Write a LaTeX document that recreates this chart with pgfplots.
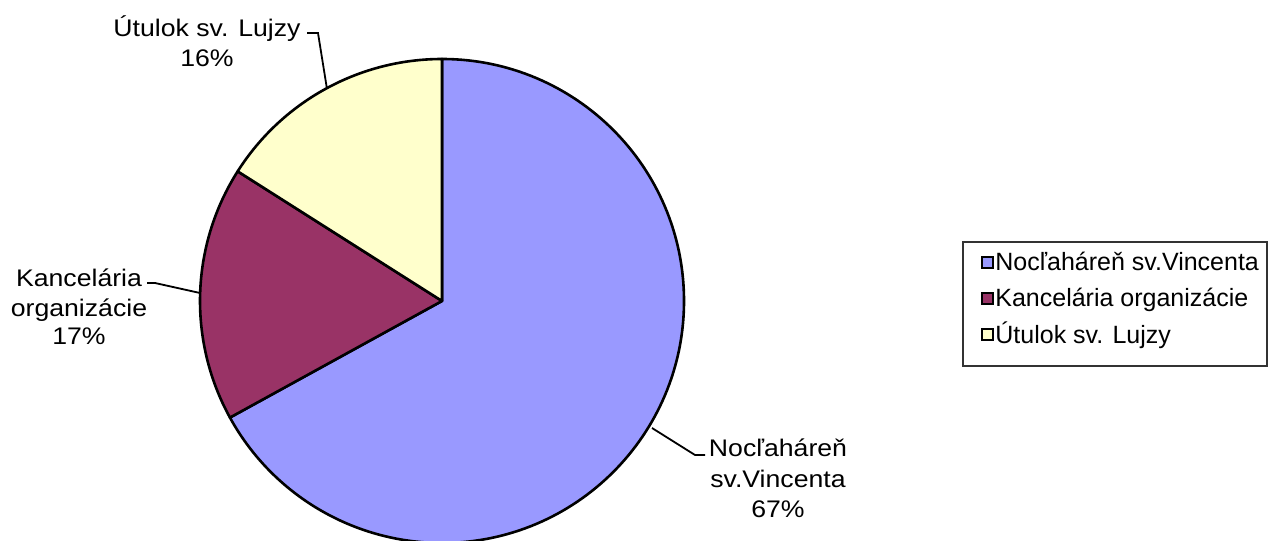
\documentclass[border=0pt]{standalone}
\usepackage{pgfplots}
\pgfplotsset{compat=1.18}
\usepackage{fontspec}
\setmainfont{Liberation Sans}
\newfontfamily\lblfont{Liberation Sans}[FakeStretch=1.11]
\definecolor{cA}{HTML}{9999FF}
\definecolor{cB}{HTML}{993366}
\definecolor{cC}{HTML}{FFFFCC}
% data (percent)
\def\vA{67}
\def\vB{17}
\def\vC{16}
\begin{document}
\begin{tikzpicture}
\pgfmathsetmacro{\aS}{90}
\pgfmathsetmacro{\aA}{90-3.6*\vA}
\pgfmathsetmacro{\aB}{\aA-3.6*\vB}
\pgfmathsetmacro{\aC}{\aB-3.6*\vC}
\begin{axis}[name=ax, x=0.5pt, y=0.5pt, xmin=0, xmax=1270, ymin=0, ymax=541,
  hide axis, clip=false]
% slices
\filldraw[fill=cA, draw=black, line width=1.3pt, line join=round] (axis cs:442,240) -- ++(\aS:121pt) arc[start angle=\aS, end angle=\aA, radius=121pt] -- cycle;
\filldraw[fill=cB, draw=black, line width=1.3pt, line join=round] (axis cs:442,240) -- ++(\aA:121pt) arc[start angle=\aA, end angle=\aB, radius=121pt] -- cycle;
\filldraw[fill=cC, draw=black, line width=1.3pt, line join=round] (axis cs:442,240) -- ++(\aB:121pt) arc[start angle=\aB, end angle=\aC, radius=121pt] -- cycle;
% leader lines
\draw[line width=0.9pt] (axis cs:307,508) -- (axis cs:318,508) -- (axis cs:327,452);
\draw[line width=0.9pt] (axis cs:147,258) -- (axis cs:155,258) -- (axis cs:200,248);
\draw[line width=0.9pt] (axis cs:652,113) -- (axis cs:695,86) -- (axis cs:705,86);
% data labels
\begin{scope}[every node/.style={inner sep=0pt, anchor=base, font=\lblfont\fontsize{12}{14}\selectfont}]
\node at (axis cs:207,504) {Útulok sv. Lujzy};
\node at (axis cs:207,474) {\vC\%};
\node at (axis cs:79,254) {Kancelária};
\node at (axis cs:79,224) {organizácie};
\node at (axis cs:79,196) {\vB\%};
\node at (axis cs:778,84) {Nocľaháreň};
\node at (axis cs:778,54) {sv.Vincenta};
\node at (axis cs:778,24) {\vA\%};
\end{scope}
% legend
\draw[black!80, line width=1pt] (axis cs:963,175) rectangle (axis cs:1267,299);
\filldraw[fill=cA, draw=black, line width=0.8pt] (axis cs:982,273) rectangle (axis cs:993,284);
\filldraw[fill=cB, draw=black, line width=0.8pt] (axis cs:982,237) rectangle (axis cs:993,248);
\filldraw[fill=cC, draw=black, line width=0.8pt] (axis cs:982,201) rectangle (axis cs:993,212);
\begin{scope}[every node/.style={inner sep=0pt, anchor=base west, font=\fontsize{12.5}{14}\selectfont}]
\node at (axis cs:995,270) {Nocľaháreň sv.Vincenta};
\node at (axis cs:995,234) {Kancelária organizácie};
\node at (axis cs:995,198) {Útulok sv. Lujzy};
\end{scope}
\end{axis}
\pgfresetboundingbox
\path[use as bounding box] (ax.south west) rectangle (ax.north east);
\end{tikzpicture}
\end{document}
